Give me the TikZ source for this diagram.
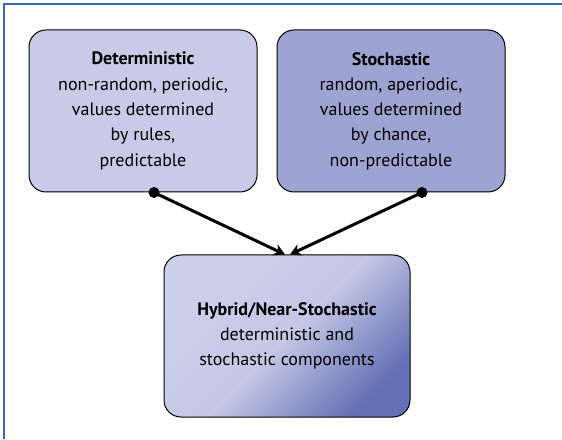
\documentclass[tikz,border=0pt]{standalone}
\usepackage{fontspec}
\setmainfont{PT Sans}
\usetikzlibrary{arrows.meta,calc}
\definecolor{frameblue}{HTML}{3A64B4}
\definecolor{detfill}{HTML}{C8CBE7}
\definecolor{stofill}{HTML}{9EA4D2}
\definecolor{hyblight}{HTML}{CDD0EA}
\definecolor{hybdark}{HTML}{6470B5}
\tikzset{
  conceptbox/.style={draw=black, line width=1pt, rounded corners=17pt,
    minimum height=162pt, align=center, inner sep=0pt,
    font=\fontsize{18}{25.3}\selectfont},
  link/.style={line width=3pt, -{Stealth[length=11pt,width=12pt]}},
  anchordot/.style={circle, fill=black, inner sep=0pt, minimum size=11pt},
}
\begin{document}
\begin{tikzpicture}[x=1pt,y=1pt]
  \useasboundingbox (0,0) rectangle (562,439);
  % frame on the left and top edges
  \draw[frameblue, line width=2.2pt] (4,0) -- (4,435) -- (562,435);

  \node[conceptbox, fill=detfill, minimum width=228pt] (det) at (143,328)
    {\textbf{Deterministic}\\non-random, periodic,\\values determined\\by rules,\\predictable};
  \node[conceptbox, fill=stofill, minimum width=228pt] (sto) at (391,328)
    {\textbf{Stochastic}\\random, aperiodic,\\values determined\\by chance,\\non-predictable};
  \node[conceptbox, top color=hyblight, bottom color=hybdark, middle color=hyblight!92!hybdark,
    shading angle=45, minimum width=246pt] (hyb) at (287,103)
    {\textbf{Hybrid/Near-Stochastic}\\deterministic and\\stochastic components};

  \node[anchordot] (detdot) at ($(det.south)+(11,0)$) {};
  \node[anchordot] (stodot) at ($(sto.south)+(31,0)$) {};
  \coordinate (hybinL) at ($(hyb.north)+(-2,0)$);
  \coordinate (hybinR) at ($(hyb.north)+(3,0)$);

  \draw[link] (detdot.center) -- (hybinL);
  \draw[link] (stodot.center) -- (hybinR);
\end{tikzpicture}
\end{document}
